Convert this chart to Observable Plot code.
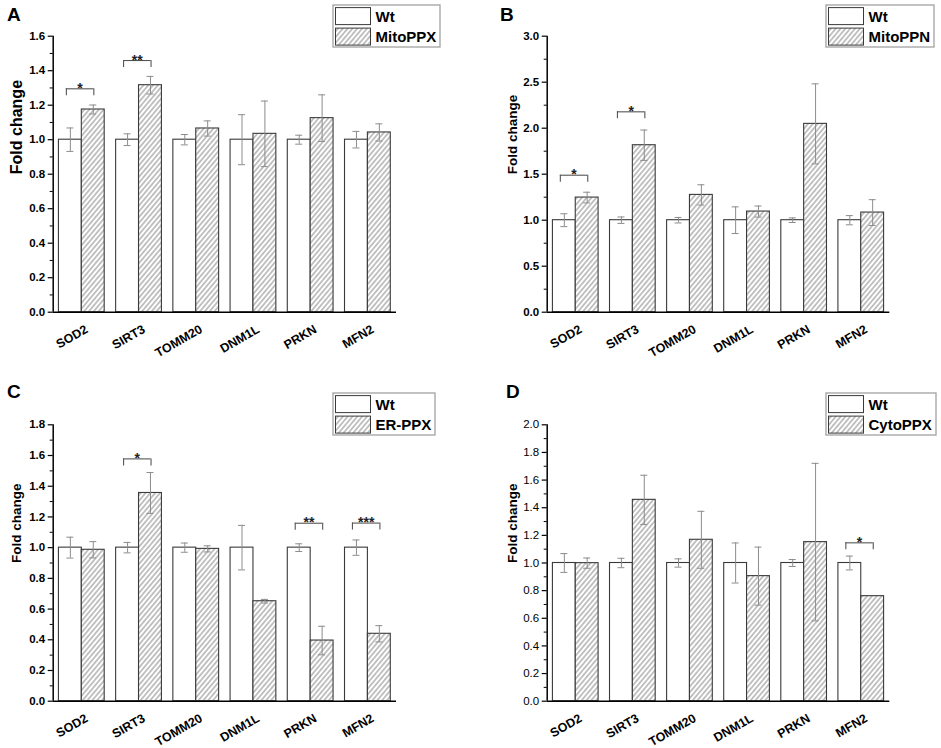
<!DOCTYPE html>
<html><head><meta charset="utf-8">
<script src="https://cdn.jsdelivr.net/npm/d3@7"></script>
<script src="https://cdn.jsdelivr.net/npm/@observablehq/plot@0.6"></script>
<style>
body{margin:0;background:#fff;font-family:Arial,"Liberation Sans",sans-serif;}
#root{position:relative;width:941px;height:748px;overflow:hidden;background:#fff}
.panel{position:absolute}
.panel svg{overflow:visible}
.letter{position:absolute;font-weight:bold;font-size:19px;line-height:1;color:#000}
.legend{position:absolute}
</style></head>
<body><div id="root"></div>
<script>
const genes = ["SOD2", "SIRT3", "TOMM20", "DNM1L", "PRKN", "MFN2"];
const groups = ["Wt"];

// Panel A: MitoPPX
const aWt = [1, 1, 1, 1, 1, 1];
const aWtErr = [0.068, 0.034, 0.030, 0.145, 0.026, 0.048];
const aTr = [1.175, 1.316, 1.065, 1.034, 1.125, 1.042];
const aTrErr = [0.026, 0.051, 0.044, 0.190, 0.135, 0.050];
const aSig = [{gene: 0, level: 1.295, label: "*"}, {gene: 1, level: 1.459, label: "**"}];

// Panel B: MitoPPN
const bWt = [1, 1, 1, 1, 1, 1];
const bWtErr = [0.070, 0.035, 0.030, 0.145, 0.025, 0.050];
const bTr = [1.246, 1.815, 1.275, 1.094, 2.047, 1.083];
const bTrErr = [0.058, 0.165, 0.110, 0.060, 0.435, 0.140];
const bSig = [{gene: 0, level: 1.489, label: "*"}, {gene: 1, level: 2.178, label: "*"}];

// Panel C: ER-PPX
const cWt = [1, 1, 1, 1, 1, 1];
const cWtErr = [0.068, 0.034, 0.030, 0.145, 0.025, 0.050];
const cTr = [0.986, 1.356, 0.992, 0.651, 0.395, 0.439];
const cTrErr = [0.053, 0.133, 0.020, 0.012, 0.093, 0.053];
const cSig = [{gene: 1, level: 1.578, label: "*"}, {gene: 4, level: 1.159, label: "**"}, {gene: 5, level: 1.160, label: "***"}];

// Panel D: CytoPPX
const dWt = [1, 1, 1, 1, 1, 1];
const dWtErr = [0.068, 0.034, 0.030, 0.145, 0.025, 0.050];
const dTr = [0.999, 1.457, 1.168, 0.905, 1.151, 0.760];
const dTrErr = [0.037, 0.178, 0.206, 0.210, 0.570, 0.000];
const dSig = [{gene: 5, level: 1.146, label: "*"}];

const yTicksA = [0, 0.2, 0.4, 0.6, 0.8, 1.0, 1.2, 1.4, 1.6];
const yTicksB = [0, 0.5, 1.0, 1.5, 2.0, 2.5, 3.0];
const yTicksC = [0, 0.2, 0.4, 0.6, 0.8, 1.0, 1.2, 1.4, 1.6, 1.8];
const yTicksD = [0, 0.2, 0.4, 0.6, 0.8, 1.0, 1.2, 1.4, 1.6, 1.8, 2.0];

const panels = [
  {id: "A", name: "MitoPPX", wt: aWt, wtErr: aWtErr, tr: aTr, trErr: aTrErr, sig: aSig, ticks: yTicksA,
   left: 0, top: 0, w: 470, h: 370, ml: 52.7, mr: 74, mt: 35.7, mb: 58.3, labelFont: 16, tickBold: true,
   letter: [7, 5], legend: [332.7, 4.7, 107, 42]},
  {id: "B", name: "MitoPPN", wt: bWt, wtErr: bWtErr, tr: bTr, trErr: bTrErr, sig: bSig, ticks: yTicksB,
   left: 470, top: 0, w: 471, h: 370, ml: 76.7, mr: 51.7, mt: 35.7, mb: 58.3, labelFont: 13.5, tickBold: true,
   letter: [30, 5], legend: [356, 4.7, 108, 42]},
  {id: "C", name: "ER-PPX", wt: cWt, wtErr: cWtErr, tr: cTr, trErr: cTrErr, sig: cSig, ticks: yTicksC,
   left: 0, top: 370, w: 470, h: 378, ml: 52.7, mr: 74, mt: 54.3, mb: 47.3, labelFont: 13.5, tickBold: true,
   letter: [7, 12], legend: [332.7, 23.3, 102, 42]},
  {id: "D", name: "CytoPPX", wt: dWt, wtErr: dWtErr, tr: dTr, trErr: dTrErr, sig: dSig, ticks: yTicksD,
   left: 470, top: 370, w: 471, h: 378, ml: 76.7, mr: 51.7, mt: 54.3, mb: 47.3, labelFont: 13.5, tickBold: false,
   letter: [36, 12], legend: [356, 23, 110, 42]}
];

const root = document.getElementById("root");
const hatchStroke = "#7a7a7a";
const errColor = "#8c8c8c";

function addHatch(svg, id) {
  const defs = d3.select(svg).insert("defs", ":first-child");
  const pat = defs.append("pattern").attr("id", id).attr("patternUnits", "userSpaceOnUse")
    .attr("width", 3.7).attr("height", 3.7).attr("patternTransform", "rotate(40)");
  pat.append("rect").attr("width", 3.7).attr("height", 3.7).attr("fill", "white");
  pat.append("line").attr("x1", 1.85).attr("y1", 0).attr("x2", 1.85).attr("y2", 3.7)
    .attr("stroke", hatchStroke).attr("stroke-width", 0.9);
}

for (const p of panels) {
  const rows = genes.map((g, i) => ({i, gene: g, wt: p.wt[i], wtErr: p.wtErr[i], tr: p.tr[i], trErr: p.trErr[i]}));
  const yMax = p.ticks[p.ticks.length - 1];
  const step = p.ticks[1] - p.ticks[0];
  const minor = d3.range(0, Math.round(yMax / step * 2) + 1).map(k => k * step / 2).filter((v, k) => k % 2 === 1);
  const hatchId = "hatch" + p.id;
  const errRows = rows.flatMap(r => [
    {c: r.i + 0.3, lo: r.wt - r.wtErr, hi: r.wt + r.wtErr, e: r.wtErr},
    {c: r.i + 0.7, lo: r.tr - r.trErr, hi: r.tr + r.trErr, e: r.trErr}
  ]).filter(d => d.e > 0);
  const tickFont = {fontSize: 11.5, fontWeight: p.tickBold ? "bold" : "normal", fill: "#000"};

  const chart = Plot.plot({
    width: p.w, height: p.h,
    marginLeft: p.ml, marginRight: p.mr, marginTop: p.mt, marginBottom: p.mb,
    style: {fontFamily: "Arial, 'Liberation Sans', sans-serif", background: "transparent", overflow: "visible"},
    x: {type: "linear", domain: [0, 6], axis: null},
    y: {domain: [0, yMax], axis: null},
    marks: [
      Plot.rect(rows, {x1: d => d.i + 0.1, x2: d => d.i + 0.5, y1: 0, y2: "wt", fill: "white", stroke: "#3a3a3a", strokeWidth: 1.1}),
      Plot.rect(rows, {x1: d => d.i + 0.5, x2: d => d.i + 0.9, y1: 0, y2: "tr", fill: `url(#${hatchId})`, stroke: "#3a3a3a", strokeWidth: 1.1}),
      Plot.ruleX(errRows, {x: "c", y1: "lo", y2: "hi", stroke: errColor, strokeWidth: 1}),
      Plot.ruleY(errRows, {y: "hi", x1: "c", x2: "c", insetLeft: -3.5, insetRight: -3.5, stroke: errColor, strokeWidth: 1}),
      Plot.ruleY(errRows, {y: "lo", x1: "c", x2: "c", insetLeft: -3.5, insetRight: -3.5, stroke: errColor, strokeWidth: 1}),
      // significance brackets
      Plot.ruleY(p.sig, {y: "level", x1: d => d.gene + 0.23, x2: d => d.gene + 0.71, stroke: "#555", strokeWidth: 1.1}),
      Plot.ruleX(p.sig, {x: d => d.gene + 0.23, y1: "level", y2: "level", insetTop: 7, stroke: "#555", strokeWidth: 1.1}),
      Plot.ruleX(p.sig, {x: d => d.gene + 0.71, y1: "level", y2: "level", insetTop: 7, stroke: "#555", strokeWidth: 1.1}),
      Plot.text(p.sig, {x: d => d.gene + 0.47, y: "level", text: "label", lineAnchor: "bottom", dy: 4, fontSize: 14, fontWeight: "bold", fill: "#222"}),
      // axes
      Plot.axisY(minor, {tickSize: 3, tickFormat: () => "", stroke: "#000", strokeWidth: 1}),
      Plot.axisY(p.ticks, {tickSize: 5, tickPadding: 3, tickFormat: d3.format(".1f"), stroke: "#000", strokeWidth: 1.2, label: null, ...tickFont}),
      Plot.text(rows, {x: d => d.i + 0.5, frameAnchor: "bottom", text: "gene", rotate: -30, textAnchor: "end", lineAnchor: "middle", dx: 5, dy: 16, fontSize: 12.5, fontWeight: "bold", fill: "#000"}),
      Plot.ruleX([0], {y1: 0, y2: yMax, stroke: "#000", strokeWidth: 1.5}),
      Plot.ruleY([0], {x1: 0, x2: 6, stroke: "#000", strokeWidth: 1.5}),
      Plot.text(["Fold change"], {frameAnchor: "left", dx: -p.ml + (p.ml > 60 ? 42 : 16), rotate: -90, fontSize: p.labelFont, fontWeight: "bold", fill: "#000"})
    ]
  });
  addHatch(chart, hatchId);

  const div = document.createElement("div");
  div.className = "panel";
  div.style.left = p.left + "px";
  div.style.top = p.top + "px";
  div.style.width = p.w + "px";
  div.style.height = p.h + "px";
  div.appendChild(chart);

  const letter = document.createElement("div");
  letter.className = "letter";
  letter.textContent = p.id;
  letter.style.left = p.letter[0] + "px";
  letter.style.top = p.letter[1] + "px";
  div.appendChild(letter);

  // legend
  const [lx, ly, lw, lh] = p.legend;
  const lg = d3.create("svg").attr("class", "legend").attr("width", lw + 2).attr("height", lh + 2)
    .style("left", (lx - 1) + "px").style("top", (ly - 1) + "px");
  const ldefs = lg.append("defs");
  const lpat = ldefs.append("pattern").attr("id", "lg" + hatchId).attr("patternUnits", "userSpaceOnUse")
    .attr("width", 3.7).attr("height", 3.7).attr("patternTransform", "rotate(40)");
  lpat.append("rect").attr("width", 3.7).attr("height", 3.7).attr("fill", "white");
  lpat.append("line").attr("x1", 1.85).attr("y1", 0).attr("x2", 1.85).attr("y2", 3.7).attr("stroke", hatchStroke).attr("stroke-width", 0.9);
  lg.append("rect").attr("x", 1).attr("y", 1).attr("width", lw).attr("height", lh)
    .attr("fill", "white").attr("stroke", "#a8a8a8").attr("stroke-width", 1.4);
  const items = [{label: groups[0], fill: "white"}, {label: p.name, fill: `url(#lg${hatchId})`}];
  items.forEach((it, k) => {
    const yy = 3.6 + k * 20.5;
    lg.append("rect").attr("x", 3.5).attr("y", yy).attr("width", 35).attr("height", 17)
      .attr("fill", it.fill).attr("stroke", "#3a3a3a").attr("stroke-width", 1);
    lg.append("text").attr("x", 43.5).attr("y", yy + 14).text(it.label)
      .attr("font-family", "Arial, 'Liberation Sans', sans-serif").attr("font-weight", "bold").attr("font-size", 15).attr("fill", "#000");
  });
  div.appendChild(lg.node());
  root.appendChild(div);
}
</script>
</body></html>
